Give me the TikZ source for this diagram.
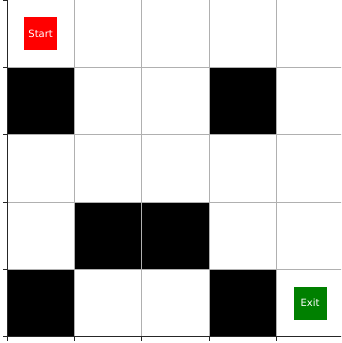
\documentclass[tikz,border=0pt]{standalone}
\usepackage{fontspec}
\setmainfont{DejaVu Sans}
\definecolor{mplgreen}{RGB}{0,128,0}
\definecolor{gridgray}{RGB}{176,176,176}
\begin{document}
\begin{tikzpicture}[x=1pt,y=-1pt,
  cellblk/.style={fill=black,draw=none},
  gridln/.style={draw=gridgray,line width=0.9pt},
  spine/.style={draw=black!85,line width=0.9pt},
  tickln/.style={draw=black!85,line width=0.9pt},
  labelbox/.style={minimum width=33pt,minimum height=33pt,inner sep=0pt,text=white,font=\fontsize{10}{11}\selectfont}]
\useasboundingbox (0,0) rectangle (341,343);
\clip (0,0) rectangle (341,343);
\fill[white] (0,0) rectangle (341,343);
% cell geometry: x0=7, y0=0, size 67.35
\def\cs{67.35}
\foreach \c/\r in {0/1,3/1,1/3,2/3,0/4,3/4}{
  \fill[black] ({7+\c*\cs},{\r*\cs}) rectangle ({7+(\c+1)*\cs},{(\r+1)*\cs});
}
\foreach \i in {1,...,4}{
  \draw[gridln] ({7+\i*\cs},0) -- ({7+\i*\cs},{5*\cs});
  \draw[gridln] (7,{\i*\cs}) -- ({7+5*\cs},{\i*\cs});
}
\draw[spine] (7,0) -- (7,{5*\cs}) -- ({7+5*\cs},{5*\cs});
\foreach \i in {0,...,5}{
  \draw[tickln] (3,{\i*\cs}) -- (7,{\i*\cs});
  \draw[tickln] ({7+\i*\cs},{5*\cs}) -- ({7+\i*\cs},{5*\cs+4});
}
\node[labelbox,fill=red] (start) at ({7+0.5*\cs},{0.5*\cs}) {Start};
\node[labelbox,fill=mplgreen] (exit) at ({7+4.5*\cs},{4.5*\cs}) {Exit};
\end{tikzpicture}
\end{document}
